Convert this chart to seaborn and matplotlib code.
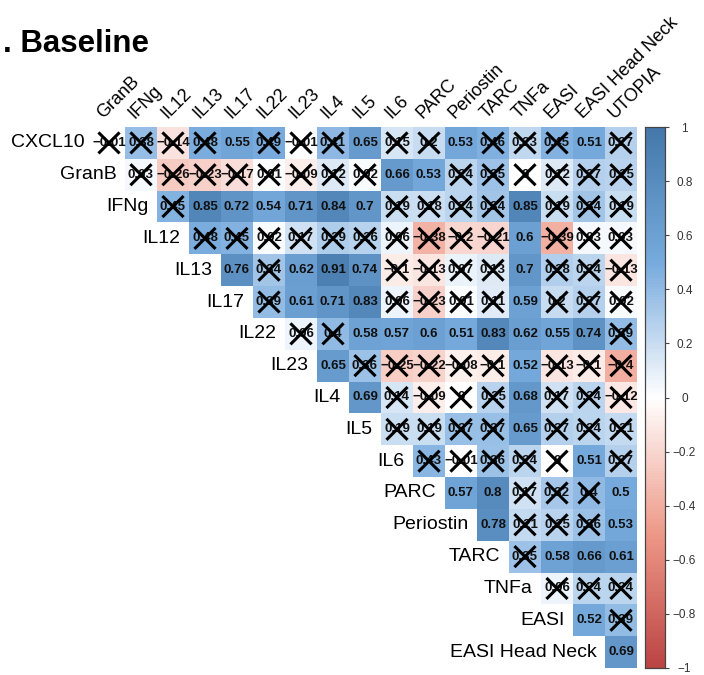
import numpy as np
import pandas as pd
import seaborn as sns
import matplotlib.pyplot as plt
from matplotlib.colors import LinearSegmentedColormap

sns.set_style("white")
plt.rcParams["font.family"] = ["Liberation Sans", "DejaVu Sans"]

variables = ["CXCL10", "GranB", "IFNg", "IL12", "IL13", "IL17", "IL22", "IL23",
             "IL4", "IL5", "IL6", "PARC", "Periostin", "TARC", "TNFa", "EASI",
             "EASI Head Neck", "UTOPIA"]
row_labels = variables[:-1]
col_labels = variables[1:]

# Spearman correlations of each row variable with every later variable
r_cxcl10 = [-0.01, 0.38, -0.14, 0.48, 0.55, 0.49, -0.01, 0.41, 0.65, 0.15, 0.2, 0.53, 0.46, 0.23, 0.45, 0.51, 0.27]
r_granb = [0.03, -0.26, -0.23, -0.17, 0.01, -0.09, 0.12, 0.02, 0.66, 0.53, 0.24, 0.35, 0, 0.12, 0.27, 0.25]
r_ifng = [0.45, 0.85, 0.72, 0.54, 0.71, 0.84, 0.7, 0.19, 0.18, 0.24, 0.34, 0.85, 0.19, 0.34, 0.19]
r_il12 = [0.48, 0.45, 0.02, 0.17, 0.29, 0.26, 0.06, -0.38, -0.2, -0.21, 0.6, -0.39, 0.03, 0.03]
r_il13 = [0.76, 0.34, 0.62, 0.91, 0.74, -0.1, -0.13, 0.07, 0.13, 0.7, 0.28, 0.24, -0.13]
r_il17 = [0.39, 0.61, 0.71, 0.83, 0.06, -0.23, 0.01, 0.11, 0.59, 0.2, 0.27, 0.02]
r_il22 = [0.06, 0.4, 0.58, 0.57, 0.6, 0.51, 0.83, 0.62, 0.55, 0.74, 0.39]
r_il23 = [0.65, 0.36, -0.25, -0.22, -0.08, -0.1, 0.52, -0.13, -0.1, -0.4]
r_il4 = [0.69, 0.14, -0.09, 0, 0.25, 0.68, 0.17, 0.24, -0.12]
r_il5 = [0.19, 0.19, 0.37, 0.37, 0.65, 0.27, 0.24, 0.21]
r_il6 = [0.43, -0.01, 0.36, 0.24, 0, 0.51, 0.27]
r_parc = [0.57, 0.8, 0.17, 0.32, 0.4, 0.5]
r_periostin = [0.78, 0.21, 0.25, 0.36, 0.53]
r_tarc = [0.35, 0.58, 0.66, 0.61]
r_tnfa = [0.06, 0.24, 0.24]
r_easi = [0.52, 0.39]
r_easi_hn = [0.69]

# 1 = not significant (crossed out)
ns_cxcl10 = [1, 1, 1, 1, 0, 1, 1, 1, 0, 1, 1, 0, 1, 1, 1, 0, 1]
ns_granb = [1, 1, 1, 1, 1, 1, 1, 1, 0, 0, 1, 1, 1, 1, 1, 1]
ns_ifng = [1, 0, 0, 0, 0, 0, 0, 1, 1, 1, 1, 0, 1, 1, 1]
ns_il12 = [1, 1, 1, 1, 1, 1, 1, 1, 1, 1, 0, 1, 1, 1]
ns_il13 = [0, 1, 0, 0, 0, 1, 1, 1, 1, 0, 1, 1, 1]
ns_il17 = [1, 0, 0, 0, 1, 1, 1, 1, 0, 1, 1, 1]
ns_il22 = [1, 1, 0, 0, 0, 0, 0, 0, 0, 0, 1]
ns_il23 = [0, 1, 1, 1, 1, 1, 0, 1, 1, 1]
ns_il4 = [0, 1, 1, 1, 1, 0, 1, 1, 1]
ns_il5 = [1, 1, 1, 1, 0, 1, 1, 1]
ns_il6 = [1, 1, 1, 1, 1, 0, 1]
ns_parc = [0, 0, 1, 1, 1, 0]
ns_periostin = [0, 1, 1, 1, 0]
ns_tarc = [1, 0, 0, 0]
ns_tnfa = [1, 1, 1]
ns_easi = [0, 1]
ns_easi_hn = [0]

upper_rows = [r_cxcl10, r_granb, r_ifng, r_il12, r_il13, r_il17, r_il22, r_il23,
              r_il4, r_il5, r_il6, r_parc, r_periostin, r_tarc, r_tnfa, r_easi, r_easi_hn]
ns_rows = [ns_cxcl10, ns_granb, ns_ifng, ns_il12, ns_il13, ns_il17, ns_il22, ns_il23,
           ns_il4, ns_il5, ns_il6, ns_parc, ns_periostin, ns_tarc, ns_tnfa, ns_easi, ns_easi_hn]

n = len(row_labels)
corr = np.full((n, n), np.nan)
crossed = np.zeros((n, n), dtype=bool)
for i, (vals, ns) in enumerate(zip(upper_rows, ns_rows)):
    corr[i, i:] = vals
    crossed[i, i:] = np.array(ns, dtype=bool)
df = pd.DataFrame(corr, index=row_labels, columns=col_labels)


def fmt(v):
    if np.isnan(v):
        return ""
    s = f"{abs(v):.2f}".rstrip("0").rstrip(".")
    if s == "":
        s = "0"
    return ("\u2212" + s) if v < 0 and s != "0" else s


annot = np.vectorize(fmt, otypes=[str])(corr)

cmap = LinearSegmentedColormap.from_list(
    "corr", ["#BB4444", "#EE9988", "#FFFFFF", "#77AADD", "#4477AA"], N=200)

W, H = 704, 675
fig = plt.figure(figsize=(W / 100, H / 100), dpi=100)
gx0, gx1, gy0, gy1 = 93, 637, 127, 668
ax = fig.add_axes([gx0 / W, 1 - gy1 / H, (gx1 - gx0) / W, (gy1 - gy0) / H])
cax = fig.add_axes([645 / W, 1 - gy1 / H, 20 / W, (gy1 - gy0) / H])

sns.heatmap(df, mask=np.isnan(corr), cmap=cmap, vmin=-1, vmax=1,
            annot=annot, fmt="", annot_kws=dict(size=9.5, weight="bold", color="#111111"),
            xticklabels=False, yticklabels=False, cbar_ax=cax, ax=ax, linewidths=0)

# crosses over non-significant coefficients
d = 0.33
for i in range(n):
    for j in range(n):
        if crossed[i, j]:
            cx, cy = j + 0.5, i + 0.5
            ax.plot([cx - d, cx + d], [cy - d, cy + d], color="black", lw=2.2,
                    solid_capstyle="butt", zorder=5)
            ax.plot([cx - d, cx + d], [cy + d, cy - d], color="black", lw=2.2,
                    solid_capstyle="butt", zorder=5)

# row labels at the diagonal, column labels rotated along the top
for i, lab in enumerate(row_labels):
    ax.text(i - 0.27, i + 0.5, lab, ha="right", va="center", fontsize=14, color="black")
for j, lab in enumerate(col_labels):
    ax.text(j + 0.4, -0.15, lab, ha="left", va="bottom", rotation=45,
            rotation_mode="anchor", fontsize=13, color="black")

ax.set_xlim(0, n)
ax.set_ylim(n, 0)

ticks = [-1, -0.8, -0.6, -0.4, -0.2, 0, 0.2, 0.4, 0.6, 0.8, 1]
cax.set_yticks(ticks)
cax.set_yticklabels([fmt(t) for t in ticks])
cax.yaxis.tick_right()
cax.tick_params(axis="y", length=3, width=0.8, color="#444444", pad=11,
                labelsize=8.5, labelcolor="#333333", right=True)
for t in cax.get_yticklabels():
    t.set_horizontalalignment("center")
for s in cax.spines.values():
    s.set_visible(True)
    s.set_color("#444444")
    s.set_linewidth(0.8)

fig.text(3 / W, 1 - 52 / H, ". Baseline", fontsize=22.5, weight="bold",
         ha="left", va="baseline", color="black")

fig.savefig("out.png", dpi=100)
